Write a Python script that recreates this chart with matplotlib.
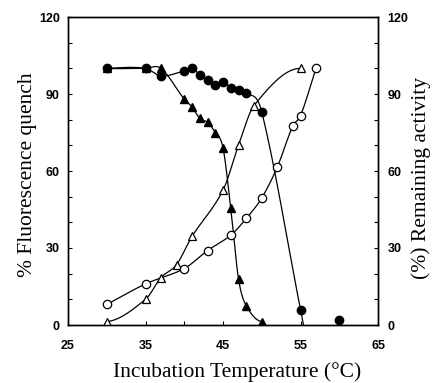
import numpy as np
import matplotlib
matplotlib.use("Agg")
import matplotlib.pyplot as plt
from matplotlib.ticker import MultipleLocator
from matplotlib.font_manager import FontProperties

# ---- data ----
fc_x = [30, 35, 37, 40, 41, 42, 43, 44, 45, 46, 47, 48, 50, 55]
fc_y = [100, 100, 97, 99, 100, 97.5, 95.5, 93.5, 94.5, 92.5, 91.5, 90.5, 83, 6]
fc_extra_x = [60]
fc_extra_y = [2]

ft_x = [30, 35, 37, 40, 41, 42, 43, 44, 45, 46, 47, 48, 50]
ft_y = [100, 100, 100, 88, 85, 80.5, 79, 75, 69, 45.5, 18, 7.5, 1.3]

ot_x = [30, 35, 37, 39, 41, 45, 47, 49, 55]
ot_y = [1.3, 10, 18.5, 23.5, 34.5, 52.5, 70, 85.5, 100]

oc_x = [30, 35, 40, 43, 46, 48, 50, 52, 54, 55, 57]
oc_y = [8, 16, 22, 29, 35, 41.5, 49.5, 61.5, 77.5, 81.5, 100]

x_ticks = [25, 35, 45, 55, 65]
y_ticks = [0, 30, 60, 90, 120]


def smooth(x, y, n=60, extend=0.0, m0=None, m1=None):
    """Catmull-Rom style Hermite curve through the points (drawing aid only)."""
    x = np.asarray(x, float)
    y = np.asarray(y, float)
    k = len(x)
    m = np.zeros(k)
    m[0] = (y[1] - y[0]) / (x[1] - x[0]) if m0 is None else m0
    m[-1] = (y[-1] - y[-2]) / (x[-1] - x[-2]) if m1 is None else m1
    for i in range(1, k - 1):
        m[i] = (y[i + 1] - y[i - 1]) / (x[i + 1] - x[i - 1])
    px, py = [], []
    for i in range(k - 1):
        h = x[i + 1] - x[i]
        t = np.linspace(0, 1, n)
        h00 = 2 * t**3 - 3 * t**2 + 1
        h10 = t**3 - 2 * t**2 + t
        h01 = -2 * t**3 + 3 * t**2
        h11 = t**3 - t**2
        px.append(x[i] + t * h)
        py.append(h00 * y[i] + h10 * h * m[i] + h01 * y[i + 1] + h11 * h * m[i + 1])
    if extend > 0:
        px.append(np.array([x[-1] + extend]))
        py.append(np.array([y[-1] + m[-1] * extend]))
    return np.concatenate(px), np.concatenate(py)


fig = plt.figure(figsize=(4.34, 3.83), dpi=100)
ax = fig.add_axes([68 / 434, 1 - 325 / 383, 310 / 434, 308 / 383])

lw = 0.9
curves = [
    (fc_x, fc_y, dict(extend=1.0, m0=0.15)),
    (ft_x, ft_y, dict(m0=-0.15, m1=-0.5)),
    (ot_x, ot_y, dict(m0=0.3, m1=0.0)),
    (oc_x, oc_y, dict()),
]
for xs, ys, kw in curves:
    sx, sy = smooth(xs, ys, **kw)
    ax.plot(sx, sy, color="black", lw=lw, zorder=2)

ms = 6
ax.plot(fc_x, fc_y, "o", ms=ms, mfc="black", mec="black", zorder=3)
ax.plot(fc_extra_x, fc_extra_y, "o", ms=ms, mfc="black", mec="black", zorder=3)
ax.plot(ft_x, ft_y, "^", ms=ms, mfc="black", mec="black", zorder=3)
ax.plot(ot_x, ot_y, "^", ms=ms, mfc="white", mec="black", mew=0.9, zorder=3)
ax.plot(oc_x, oc_y, "o", ms=ms, mfc="white", mec="black", mew=0.9, zorder=3)

ax.set_xlim(25, 65)
ax.set_ylim(0, 120)
ax.set_xticks(x_ticks)
ax.set_yticks(y_ticks)
ax.xaxis.set_minor_locator(MultipleLocator(5))
ax.yaxis.set_minor_locator(MultipleLocator(10))

tickfp = FontProperties(family="Liberation Sans", weight="bold", size=9)
ax.tick_params(which="both", direction="in", top=False, right=False, length=3, width=0.8)
ax.tick_params(axis="x", pad=11)
ax.tick_params(axis="y", pad=6)
for lab in ax.get_xticklabels() + ax.get_yticklabels():
    lab.set_fontproperties(tickfp)

ax2 = ax.twinx()
ax2.set_ylim(0, 120)
ax2.set_yticks(y_ticks)
ax2.yaxis.set_minor_locator(MultipleLocator(10))
ax2.tick_params(which="both", direction="in", length=3, width=0.8, pad=7)
for lab in ax2.get_yticklabels():
    lab.set_fontproperties(tickfp)

for a in (ax, ax2):
    for s in a.spines.values():
        s.set_linewidth(1.0)

labfp = FontProperties(family="Liberation Serif", size=15.5)
W, H = 434.0, 383.0
fig.text(237 / W, 1 - 377 / H, "Incubation Temperature (\u00b0C)", fontproperties=labfp,
         ha="center", va="baseline")
fig.text(28 / W, 1 - 175 / H, "% Fluorescence quench", fontproperties=labfp,
         ha="center", va="center", rotation=90)
fig.text(421 / W, 1 - 178 / H, "(%) Remaining activity", fontproperties=labfp,
         ha="center", va="center", rotation=90)

fig.savefig("out.png", dpi=100)
